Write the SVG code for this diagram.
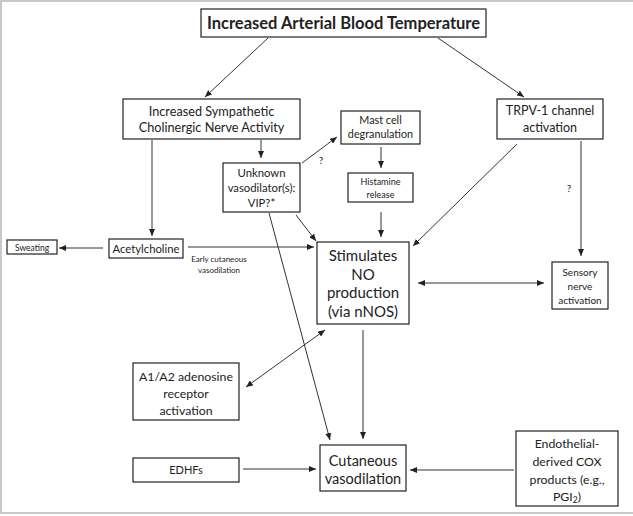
<svg xmlns="http://www.w3.org/2000/svg" width="633" height="516" viewBox="0 0 633 516">
<defs>
<style>
.b{fill:#fff;stroke:#222;stroke-width:1.2}
text{font-family:Lato,"Liberation Sans",sans-serif;fill:#222;text-anchor:middle}
.c line{stroke:#333;stroke-width:1}
.frame{fill:none;stroke:#c8c8c8;stroke-width:2}
</style>
<marker id="a" markerWidth="7" markerHeight="6" refX="7" refY="3" orient="auto-start-reverse" markerUnits="userSpaceOnUse"><path d="M0,0L7,3L0,6z" fill="#222"/></marker>
</defs>
<rect width="633" height="516" fill="#fff"/>
<path class="frame" d="M640,1H1V513H640"/>
<g id="title"><rect class="b" x="201" y="9" width="285" height="28"/><text x="343.5" y="29" font-size="16.5" font-weight="bold">Increased Arterial Blood Temperature</text></g>
<g id="symp"><rect class="b" x="123" y="99" width="177" height="40"/><text x="211.5" y="116" font-size="12.7">Increased Sympathetic</text><text x="211.5" y="132" font-size="12.7">Cholinergic Nerve Activity</text></g>
<g id="mast"><rect class="b" x="341" y="111" width="79" height="33"/><text x="380.5" y="124" font-size="10.8">Mast cell</text><text x="380.5" y="138" font-size="10.8">degranulation</text></g>
<g id="hist"><rect class="b" x="348" y="173" width="65" height="29"/><text x="380.5" y="185" font-size="9">Histamine</text><text x="380.5" y="198" font-size="9">release</text></g>
<g id="unknown"><rect class="b" x="223" y="163" width="77" height="49"/><text x="261.5" y="177" font-size="11.3">Unknown</text><text x="261.5" y="192" font-size="11.3">vasodilator(s):</text><text x="261.5" y="207" font-size="11.3">VIP?*</text></g>
<g id="trpv"><rect class="b" x="497" y="99" width="106" height="40"/><text x="550" y="115" font-size="12.5">TRPV-1 channel</text><text x="550" y="132" font-size="12.5">activation</text></g>
<g id="ach"><rect class="b" x="109" y="239" width="74" height="19"/><text x="146" y="253" font-size="11.3">Acetylcholine</text></g>
<g id="sweat"><rect class="b" x="7" y="240" width="50" height="14"/><text x="32" y="250.5" font-size="8.5">Sweating</text></g>
<g id="no"><rect class="b" x="317" y="242" width="92" height="82"/><text x="363" y="261" font-size="15">Stimulates</text><text x="363" y="279.5" font-size="15">NO</text><text x="363" y="298" font-size="15">production</text><text x="363" y="316.5" font-size="15">(via nNOS)</text></g>
<g id="sensory"><rect class="b" x="552" y="262" width="56" height="47"/><text x="580" y="276" font-size="10">Sensory</text><text x="580" y="290" font-size="10">nerve</text><text x="580" y="304" font-size="10">activation</text></g>
<g id="adeno"><rect class="b" x="133" y="363" width="106" height="57"/><text x="186" y="381" font-size="12.3">A1/A2 adenosine</text><text x="186" y="398" font-size="12.3">receptor</text><text x="186" y="415" font-size="12.3">activation</text></g>
<g id="edhf"><rect class="b" x="133" y="458" width="106" height="24"/><text x="186" y="474" font-size="11">EDHFs</text></g>
<g id="cut"><rect class="b" x="320" y="445" width="86" height="46"/><text x="363" y="466" font-size="14.5">Cutaneous</text><text x="363" y="484" font-size="14.5">vasodilation</text></g>
<g id="cox"><rect class="b" x="516" y="431" width="102" height="75"/><text x="567" y="448" font-size="12.3">Endothelial-</text><text x="567" y="466" font-size="12.3">derived COX</text><text x="567" y="484" font-size="12.3">products (e.g.,</text><text x="567" y="501" font-size="12.3">PGI<tspan font-size="8.5" dy="2">2</tspan><tspan dy="-2">)</tspan></text></g>
<g id="labels"><text x="321" y="164" font-size="10">?</text><text x="569" y="192" font-size="10">?</text><text x="219" y="262" font-size="8">Early cutaneous</text><text x="219" y="273" font-size="8">vasodilation</text></g>
<g class="c">
<line x1="268" y1="38" x2="205" y2="97" marker-end="url(#a)"/>
<line x1="438" y1="38" x2="524" y2="97" marker-end="url(#a)"/>
<line x1="152" y1="140" x2="152" y2="236" marker-end="url(#a)"/>
<line x1="261" y1="140" x2="261" y2="158" marker-end="url(#a)"/>
<line x1="302" y1="163" x2="337" y2="137" marker-end="url(#a)"/>
<line x1="381" y1="147" x2="381" y2="168" marker-end="url(#a)"/>
<line x1="381" y1="212" x2="381" y2="237" marker-end="url(#a)"/>
<line x1="296" y1="215" x2="316" y2="241" marker-end="url(#a)"/>
<line x1="517" y1="144" x2="413" y2="246" marker-end="url(#a)"/>
<line x1="581" y1="141" x2="581" y2="256" marker-end="url(#a)"/>
<line x1="103" y1="248" x2="59" y2="248" marker-end="url(#a)"/>
<line x1="188" y1="247" x2="314" y2="247" marker-end="url(#a)"/>
<line x1="269" y1="213" x2="330" y2="440" marker-end="url(#a)"/>
<line x1="418" y1="283" x2="544" y2="283" marker-start="url(#a)" marker-end="url(#a)"/>
<line x1="325" y1="330" x2="246" y2="387" marker-start="url(#a)" marker-end="url(#a)"/>
<line x1="363" y1="330" x2="363" y2="439" marker-end="url(#a)"/>
<line x1="243" y1="469" x2="316" y2="469" marker-end="url(#a)"/>
<line x1="514" y1="470" x2="410" y2="470" marker-end="url(#a)"/>
</g>
</svg>
